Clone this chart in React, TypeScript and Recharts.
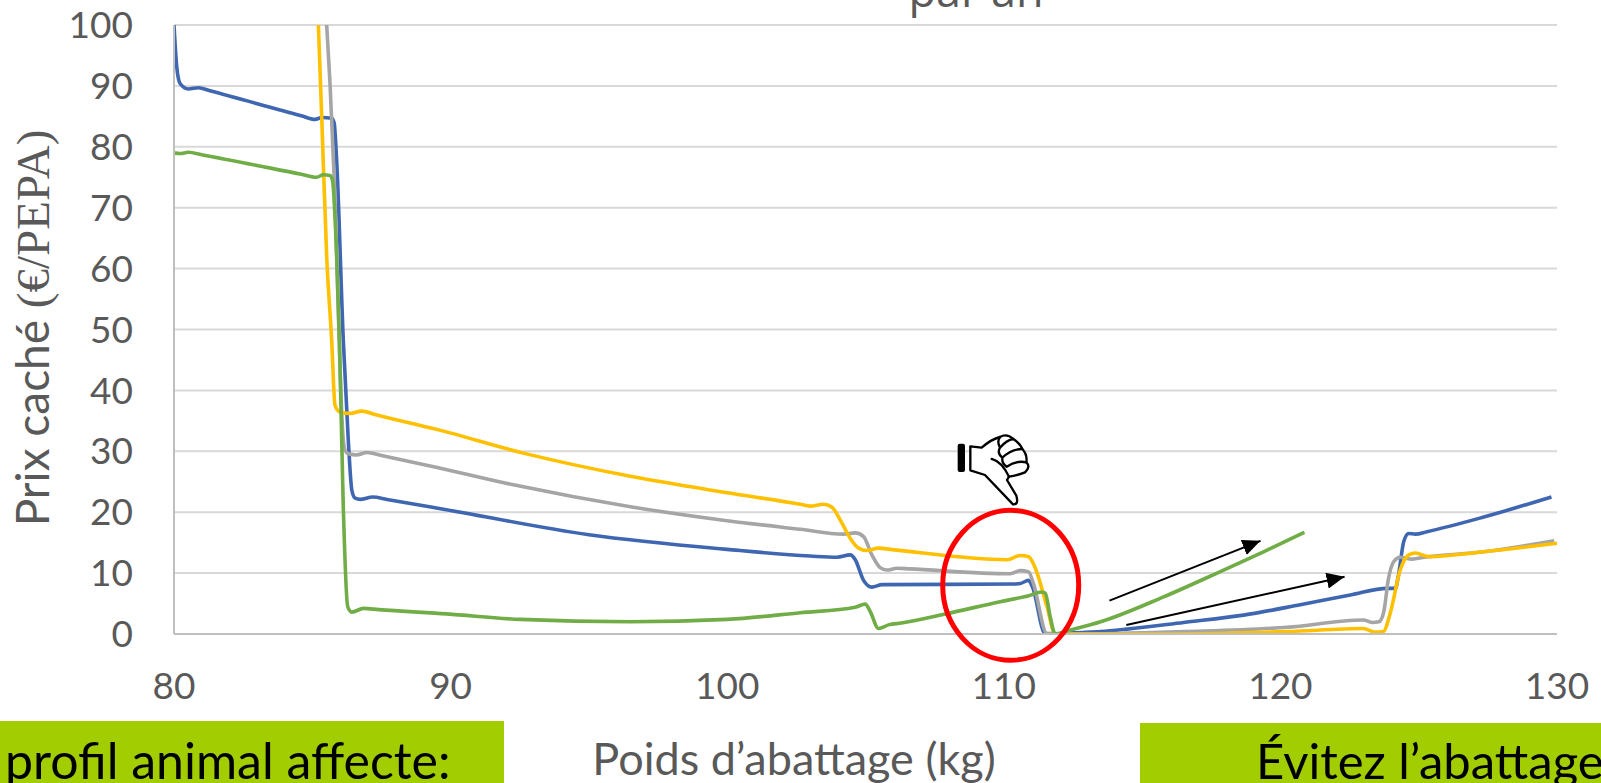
import {
  LineChart,
  Line,
  XAxis,
  YAxis,
  CartesianGrid,
  ReferenceDot,
  ReferenceLine,
} from "recharts";

const xTicks = [80, 90, 100, 110, 120, 130];
const yTicks = [0, 10, 20, 30, 40, 50, 60, 70, 80, 90, 100];

const blueX = [80, 80.1, 80.22, 80.52, 80.88, 81.3, 84.6, 85.1, 85.34, 85.7, 85.79, 85.88, 86.12, 86.3, 86.43, 86.55, 86.73, 87.18, 87.7, 89.74, 95, 100, 103, 103.97, 104.45, 104.63, 104.92, 105.23, 105.6, 110.35, 110.6, 110.89, 111.03, 111.5, 111.9, 112.5, 113.5, 114.45, 116.5, 118.67, 120.72, 122.53, 123.86, 124.16, 124.26, 124.46, 124.64, 124.88, 125.3, 127.35, 129.8];
const blueY = [100, 93.1, 90.4, 89.5, 89.7, 89.2, 85.1, 84.5, 84.8, 84.7, 83.9, 77.8, 48.3, 31.9, 23.6, 22.3, 22.1, 22.5, 22.1, 20.5, 16.3, 13.9, 12.8, 12.6, 13, 12.2, 8.9, 7.7, 8.1, 8.2, 8.3, 8.8, 7.8, 0, 0, 0.2, 0.4, 0.8, 1.9, 3.1, 4.8, 6.4, 7.5, 7.5, 9.4, 15.2, 16.5, 16.4, 16.8, 19.2, 22.5];

const grayX = [85.52, 85.64, 85.79, 86.12, 86.18, 86.3, 86.6, 86.97, 87.5, 89.26, 92.27, 96.5, 100, 102.64, 104.2, 104.63, 104.93, 105.23, 105.53, 105.77, 106.14, 106.6, 110.23, 110.6, 110.9, 111.07, 111.56, 112.5, 116.5, 120.24, 123, 123.31, 123.56, 123.74, 123.9, 124.1, 124.33, 124.76, 125.2, 127.35, 129.9];
const grayY = [100, 90.4, 75, 31.9, 30.2, 29.6, 29.4, 29.8, 29.3, 27.6, 24.5, 20.9, 18.6, 17.2, 16.4, 16.6, 16, 13, 10.9, 10.5, 10.8, 10.7, 9.9, 10.4, 10.2, 8.3, 0.1, 0, 0.4, 1.1, 2.3, 1.9, 2, 3.7, 8.9, 11.9, 12.6, 12.3, 12.6, 13.5, 15.3];

const yellowX = [85.22, 85.34, 85.52, 85.7, 85.82, 85.98, 86.37, 86.79, 87.3, 89.5, 92.63, 96.5, 100, 102.64, 103, 103.48, 103.79, 104.09, 104.45, 104.75, 105.05, 105.47, 105.9, 110.12, 110.6, 110.9, 111.14, 111.56, 111.86, 112.65, 116, 120.24, 123, 123.43, 123.72, 123.97, 124.33, 124.64, 124.88, 125.37, 127.35, 130];
const yellowY = [100, 85, 62, 48.3, 37.6, 36.5, 36.2, 36.6, 36, 33.6, 29.7, 25.9, 23.2, 21.3, 21, 21.3, 20.8, 18.7, 15.7, 14.1, 13.7, 14.1, 13.9, 12.2, 12.9, 12.7, 10.8, 4.5, 0, 0, 0, 0.4, 0.9, 0.3, 0.4, 3.4, 10.5, 13, 13.3, 12.7, 13.5, 14.9];

const greenX = [80, 80.22, 80.52, 81, 84.6, 85.16, 85.4, 85.64, 85.73, 85.88, 85.98, 86.12, 86.28, 86.43, 86.85, 87.4, 89.86, 92.51, 96.49, 100, 102.64, 104.63, 104.99, 105.17, 105.47, 105.83, 106.3, 107.8, 109.87, 110.9, 111.38, 111.5, 111.68, 111.86, 112.28, 113.5, 115.78, 117.71, 119.39, 120.87];
const greenY = [79, 78.9, 79.1, 78.7, 75.5, 75, 75.4, 75.3, 74.5, 62, 48.3, 20.9, 4.5, 3.6, 4.2, 4, 3.3, 2.4, 2, 2.4, 3.5, 4.4, 4.9, 3.7, 0.9, 1.5, 1.8, 3.2, 5.3, 6.3, 6.9, 6.7, 2.8, 0, 0.5, 2, 6.1, 10, 13.5, 16.7];

const toRows = (xs: number[], ys: number[]) => xs.map((x, i) => ({ x, y: ys[i] }));

const SANS = "Lato, 'Open Sans', sans-serif";
const TEXT_GRAY = "#595959";
const LINE_W = 3.6;

// thumbs-down pictogram, drawn in a 300x270 box
function ThumbDown() {
  return (
    <g transform="translate(945 425) scale(0.3333)" fill="none" stroke="#000" strokeWidth={7} strokeLinejoin="round" strokeLinecap="round">
      <rect x={38} y={56} width={22} height={85} rx={6} fill="#000" stroke="none" />
      <path d="M76 64 L110 68 Q140 42 165 36 Q185 24 205 42 Q225 55 232 72 Q248 90 244 112 Q258 125 240 142 Q215 152 192 155 L186 165 L214 212 Q222 240 204 238 L120 150 L76 136 Z" fill="#fff" />
      <path d="M205 42 Q185 45 165 68 M232 72 Q200 72 172 98 M244 112 Q215 105 185 125 M140 102 Q170 110 192 155 M165 36 Q155 50 165 68 Q155 85 172 98 Q170 115 185 125" />
    </g>
  );
}

export default function App() {
  return (
    <div style={{ position: "absolute", left: 0, top: 0, width: 1601, height: 783, overflow: "hidden", background: "#fff" }}>
      <LineChart width={1601} height={783} margin={{ top: 25, right: 44, bottom: 0, left: 0 }}>
        <defs>
          <marker id="arrowHead" markerUnits="userSpaceOnUse" markerWidth={20} markerHeight={18} refX={18} refY={8} orient="auto">
            <path d="M0 0 L18 8 L0 16 Z" fill="#000" />
          </marker>
        </defs>
        <CartesianGrid vertical={false} stroke="#D9D9D9" strokeWidth={2} />
        <XAxis
          type="number"
          dataKey="x"
          domain={[80, 130]}
          ticks={xTicks}
          height={149}
          interval={0}
          allowDataOverflow
          tickLine={false}
          tickSize={0}
          tickMargin={39}
          axisLine={{ stroke: "#BFBFBF", strokeWidth: 2 }}
          tick={{ fill: TEXT_GRAY, fontSize: 37, fontFamily: SANS }}
        />
        <YAxis
          type="number"
          domain={[0, 100]}
          ticks={yTicks}
          width={174}
          interval={0}
          allowDataOverflow
          tickLine={false}
          tickSize={0}
          tickMargin={41}
          axisLine={{ stroke: "#BFBFBF", strokeWidth: 2 }}
          tick={{ fill: TEXT_GRAY, fontSize: 37, fontFamily: SANS }}
        />
        <Line data={toRows(blueX, blueY)} dataKey="y" type="monotone" stroke="#3F67B1" strokeWidth={LINE_W} dot={false} isAnimationActive={false} />
        <Line data={toRows(grayX, grayY)} dataKey="y" type="monotone" stroke="#A5A5A5" strokeWidth={LINE_W} dot={false} isAnimationActive={false} />
        <Line data={toRows(yellowX, yellowY)} dataKey="y" type="monotone" stroke="#FFC000" strokeWidth={LINE_W} dot={false} isAnimationActive={false} />
        <Line data={toRows(greenX, greenY)} dataKey="y" type="monotone" stroke="#70AD47" strokeWidth={LINE_W} dot={false} isAnimationActive={false} />

        <ReferenceLine
          segment={[{ x: 113.82, y: 5.47 }, { x: 119.28, y: 15.3 }]}
          stroke="#000"
          strokeWidth={2}
          markerEnd="url(#arrowHead)"
        />
        <ReferenceLine
          segment={[{ x: 114.43, y: 1.48 }, { x: 122.32, y: 9.4 }]}
          stroke="#000"
          strokeWidth={2}
          markerEnd="url(#arrowHead)"
        />
        <ReferenceDot
          x={110.25}
          y={8}
          shape={(p: any) => <ellipse cx={p.cx} cy={p.cy} rx={68} ry={75} fill="none" stroke="#FF0000" strokeWidth={5} />}
        />

        <text x={976} y={7} textAnchor="middle" fontSize={45} fontFamily="'Open Sans', sans-serif" fill={TEXT_GRAY}>par an</text>
        <text transform="translate(49 328) rotate(-90)" textAnchor="middle" fontSize={46} fontFamily={SANS} fill={TEXT_GRAY}>
          Prix caché <tspan fontFamily="'Liberation Serif', serif" fontSize={47}>(€/PEPA)</tspan>
        </text>
        <ThumbDown />

        <rect x={0} y={721} width={504} height={62} fill="#A2CD00" />
        <rect x={1140} y={723} width={461} height={60} fill="#A2CD00" />
        <text x={5} y={779} fontSize={50} fontFamily={SANS} fill="#000">profil animal affecte:</text>
        <text x={1256} y={779} fontSize={49} fontFamily={SANS} fill="#000">Évitez l’abattage</text>
        <text x={794} y={775} textAnchor="middle" fontSize={45} fontFamily={SANS} fill={TEXT_GRAY}>Poids d’abattage (kg)</text>
      </LineChart>
    </div>
  );
}
